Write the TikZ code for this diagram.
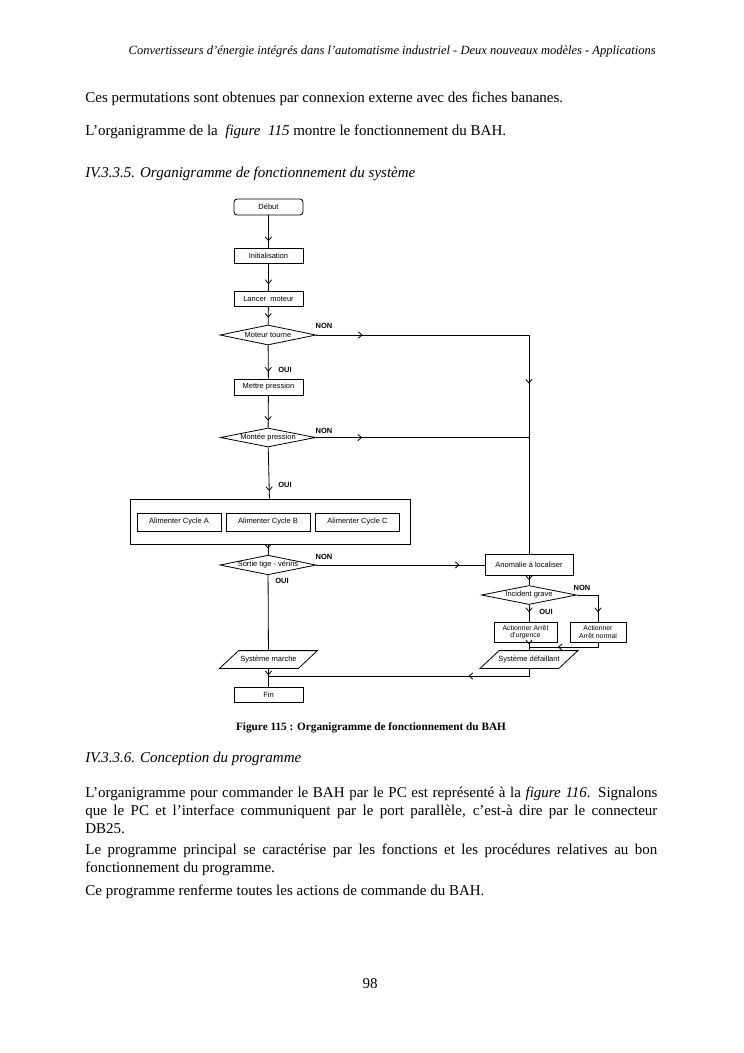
\documentclass[tikz,border=0pt]{standalone}
\usepackage{fontspec}
\setmainfont{Liberation Serif}
\setsansfont{Liberation Sans}
\usetikzlibrary{shapes.geometric,arrows.meta,decorations.markings,calc}
\newcommand\fctip{\arrow{Straight Barb[length=3pt,width=5pt]}}
\begin{document}
\begin{tikzpicture}[x=0.8pt,y=-0.8pt,line width=0.65pt,
  fsans/.style={font=\sffamily\fontsize{6}{7}\selectfont},
  wh/.style 2 args={minimum width=#1*0.8pt,minimum height=#2*0.8pt},
  pbox/.style={draw,rectangle,inner sep=0pt,fsans},
  dia/.style={draw,diamond,shape aspect=4.8,inner sep=0pt,fsans},
  para/.style={inner sep=0pt,fsans},
  lbl/.style={inner sep=0pt,font=\sffamily\bfseries\fontsize{6}{7}\selectfont},
  body/.style={anchor=base west,inner sep=0pt,font=\fontsize{12}{14.4}\selectfont},
  tipat/.style={postaction={decorate,decoration={markings,mark=at position #1 with {\fctip}}}},
  tiptwo/.style 2 args={postaction={decorate,decoration={markings,mark=at position #1 with {\fctip},mark=at position #2 with {\fctip}}}}
]
\useasboundingbox (0,0) rectangle (744,1053);
\fill[white] (0,0) rectangle (744,1053);

% ---------- page text ----------
\node[anchor=base east,inner sep=0pt,font=\fontsize{10}{12}\selectfont\itshape] (hdr) at (656,54)
  {Convertisseurs d’énergie intégrés dans l’automatisme industriel - Deux nouveaux modèles - Applications};
\node[body] (t1) at (85,102) {Ces permutations sont obtenues par connexion externe avec des fiches bananes.};
\node[body] (t2) at (85,135) {L’organigramme de la\ \ \textit{figure\ \ 115} montre le fonctionnement du BAH.};
\node[body,font=\fontsize{12}{14.4}\selectfont\itshape] (t3) at (85,177) {IV.3.3.5. Organigramme de fonctionnement du système};
\node[anchor=base,inner sep=0pt,font=\fontsize{9}{11}\selectfont\bfseries] (cap) at (371,730) {Figure 115 : Organigramme de fonctionnement du BAH};
\node[body,font=\fontsize{12}{14.4}\selectfont\itshape] (t4) at (85,762) {IV.3.3.6. Conception du programme};
\node[body] (t5) at (85,797) {\makebox[457.6pt][s]{L’organigramme pour commander le BAH par le PC est représenté à la \textit{figure 116}. Signalons}};
\node[body] (t6) at (85,815) {\makebox[457.6pt][s]{que le PC et l’interface communiquent par le port parallèle, c’est-à dire par le connecteur}};
\node[body] (t7) at (85,833) {DB25.};
\node[body] (t8) at (85,854) {\makebox[457.6pt][s]{Le programme principal se caractérise par les fonctions et les procédures relatives au bon}};
\node[body] (t9) at (85,872) {fonctionnement du programme.};
\node[body] (t10) at (85,895) {Ce programme renferme toutes les actions de commande du BAH.};
\node[anchor=base,inner sep=0pt,font=\fontsize{12}{14.4}\selectfont] (pg) at (370,988) {98};

% ---------- flowchart nodes ----------
\node[pbox,wh={69}{16},rounded corners=2.5pt] (deb) at (268.5,207) {Début};
\node[pbox,wh={69}{15}] (ini) at (268.5,256) {Initialisation};
\node[pbox,wh={69}{15}] (lan) at (268.5,299) {Lancer\ \ moteur};
\node[dia,wh={96}{20}] (d1) at (268,335) {Moteur tourne};
\node[pbox,wh={69}{16}] (mp) at (268.5,387) {Mettre pression};
\node[dia,wh={95}{19}] (d2) at (268,437.5) {Montée pression};
\node[draw,rectangle,inner sep=0pt,wh={280}{45}] (big) at (270,521.5) {};
\node[pbox,wh={84}{18}] (ca) at (179,522) {Alimenter Cycle A};
\node[pbox,wh={84}{18}] (cb) at (268,522) {Alimenter Cycle B};
\node[pbox,wh={84}{18}] (cc) at (357.5,522) {Alimenter Cycle C};
\node[dia,wh={96}{18}] (d3) at (268,565) {Sortie tige - vérins};
\node[pbox,wh={88}{21}] (ano) at (529,565) {Anomalie à localiser};
\node[dia,wh={95}{19}] (d4) at (529,595) {Incident grave};
\node[pbox,wh={63}{20},align=center,font=\sffamily\fontsize{5.5}{6}\selectfont] (au) at (525.5,632) {Actionner Arrêt\\d’urgence};
\node[pbox,wh={56}{20},align=center,font=\sffamily\fontsize{5.5}{6}\selectfont] (an) at (598,632) {Actionner\\Arrêt normal};
\node[para,wh={78}{17}] (sd) at (529,659.5) {Système défaillant};
\node[para,wh={78}{17}] (sm) at (268.5,659.5) {Système marche};
\node[pbox,wh={69}{15}] (fin) at (268.5,694.5) {Fin};

% parallelograms
\foreach \p in {sd,sm}{
  \draw ($(\p.south west)+(-9.5,0)$) -- ($(\p.south east)+(-9.5,0)$) -- ($(\p.north east)+(9.5,0)$) -- ($(\p.north west)+(9.5,0)$) -- cycle;
}

% labels
\node[lbl] (n1) at (324,326) {NON};
\node[lbl] (n2) at (324,431) {NON};
\node[lbl] (n3) at (324,557) {NON};
\node[lbl] (n4) at (582,588) {NON};
\node[lbl] (o1) at (285,370) {OUI};
\node[lbl] (o2) at (285,485) {OUI};
\node[lbl] (o3) at (282,581) {OUI};
\node[lbl] (o4) at (546,612) {OUI};

% helper coordinates
\coordinate (r1) at (529,335);
\coordinate (r2) at (529,437.5);
\coordinate (j1) at (529,647);
\coordinate (j2) at (268.5,676);

% ---------- connectors ----------
\draw[tipat=-5.5pt] (deb) -- (ini);
\draw[tipat=-5.5pt] (ini) -- (lan);
\draw[tipat=-5.5pt] (lan) -- (d1);
\draw[tipat=-5.5pt] (d1) -- (mp);
\draw[tipat=-5.5pt] (mp) -- (d2);
\draw[tipat=-6pt] (d2) -- (big);
\draw[tipat=-5pt] (big.south -| d3) -- (d3);
\draw (d3) -- (sm);
\draw[tipat=-9pt] (sm) -- (fin);
\draw[tiptwo={37pt}{209pt}] (d1.east) -- (r1) -- (ano.north);
\draw[tipat=37pt] (d2.east) -- (r2);
\fill (r2) circle (0.9pt);
\draw[tipat=-20pt] (d3.east) -- (ano.west);
\draw[tipat=-4pt] (ano) -- (d4);
\draw[tipat=-7.5pt] (d4.east) -| (an.north);
\draw[tipat=-7.5pt] (d4.south) -- (d4.south |- au.north);
\draw[tipat=-23pt] (an.south) |- (j1);
\draw[tipat=-5pt] (d4.south |- au.south) -- (d4.south |- sd.north);
\draw[tipat=-160pt] (sd.south) |- (j2);
\end{tikzpicture}
\end{document}
